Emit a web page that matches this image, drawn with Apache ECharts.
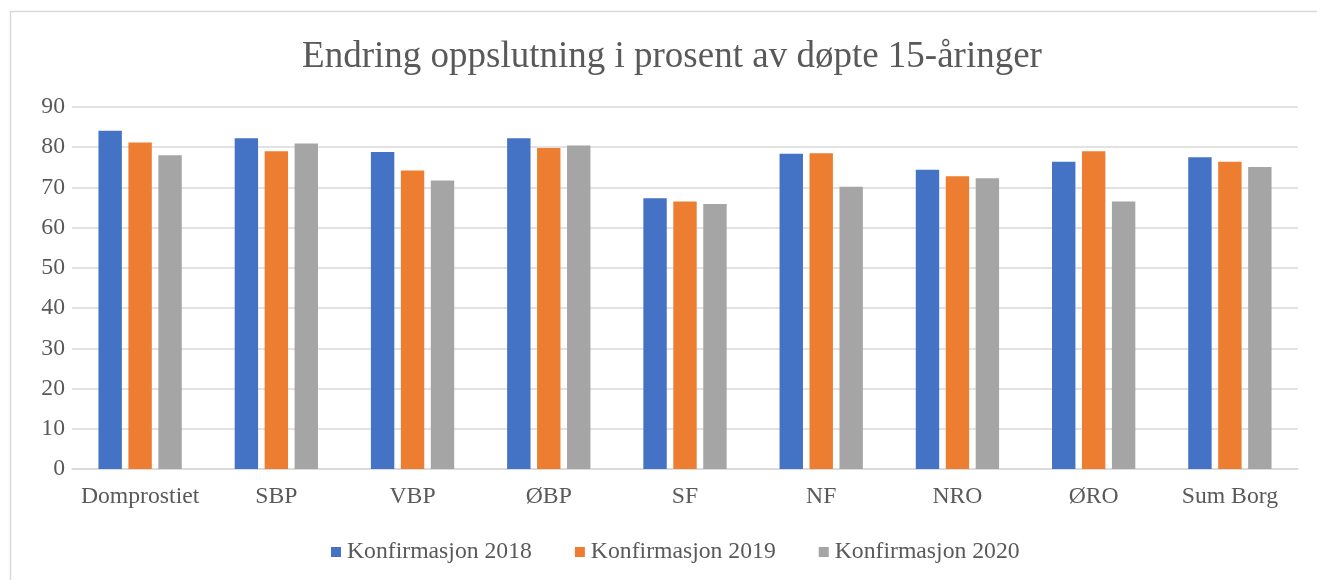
<!DOCTYPE html>
<html>
<head>
<meta charset="utf-8">
<script src="https://cdn.jsdelivr.net/npm/echarts@6/dist/echarts.min.js"></script>
<style>
html,body{margin:0;padding:0;background:#fff;}
#c{width:1317px;height:580px;}
</style>
</head>
<body>
<div id="c"></div>
<script>
const titleText = 'Endring oppslutning i prosent av døpte 15-åringer';
const categories = ['Domprostiet', 'SBP', 'VBP', 'ØBP', 'SF', 'NF', 'NRO', 'ØRO', 'Sum Borg'];
const seriesNames = ['Konfirmasjon 2018', 'Konfirmasjon 2019', 'Konfirmasjon 2020'];
const values2018 = [84.1, 82.2, 78.8, 82.2, 67.3, 78.4, 74.4, 76.4, 77.5];
const values2019 = [81.2, 79.0, 74.2, 79.8, 66.5, 78.5, 72.8, 79.0, 76.4];
const values2020 = [78.0, 80.9, 71.7, 80.4, 65.9, 70.2, 72.3, 66.5, 75.1];
const colors = ['#4472C4', '#ED7D31', '#A5A5A5'];

const chart = echarts.init(document.getElementById('c'), null, {renderer: 'canvas'});
const font = '"Liberation Serif", "Times New Roman", serif';
const txt = '#595959';
const allValues = [values2018, values2019, values2020];

chart.setOption({
  animation: false,
  backgroundColor: '#fff',
  color: colors,
  graphic: [{
    type: 'rect',
    shape: {x: 10.5, y: 11.5, width: 1400, height: 700},
    style: {fill: 'none', stroke: '#d9d9d9', lineWidth: 1.5},
    silent: true
  }],
  title: {
    text: titleText,
    left: 667,
    textAlign: 'center',
    top: 34,
    textStyle: {fontFamily: font, fontSize: 37, fontWeight: 'normal', color: txt}
  },
  legend: {
    data: seriesNames,
    left: 326,
    top: 535,
    icon: 'rect',
    itemWidth: 10,
    itemHeight: 10,
    itemGap: 43,
    textStyle: {fontFamily: font, fontSize: 23.7, color: txt, padding: [0, 0, 0, 1]}
  },
  grid: {left: 72, right: 19, top: 107, bottom: 111, containLabel: false},
  xAxis: {
    type: 'category',
    data: categories,
    axisLine: {lineStyle: {color: '#d9d9d9', width: 1.5}},
    axisTick: {show: false},
    axisLabel: {fontFamily: font, fontSize: 23.7, color: txt, margin: 16, interval: 0}
  },
  yAxis: {
    type: 'value',
    min: 0,
    max: 90,
    interval: 10,
    axisLine: {show: false},
    axisTick: {show: false},
    axisLabel: {fontFamily: font, fontSize: 23.7, color: txt, margin: 7},
    splitLine: {lineStyle: {color: '#d9d9d9', width: 1.5}}
  },
  series: seriesNames.map((name, i) => ({
    name: name,
    type: 'bar',
    data: allValues[i],
    barWidth: 23.4,
    barGap: '28%',
    itemStyle: {color: colors[i]}
  }))
});
</script>
</body>
</html>
